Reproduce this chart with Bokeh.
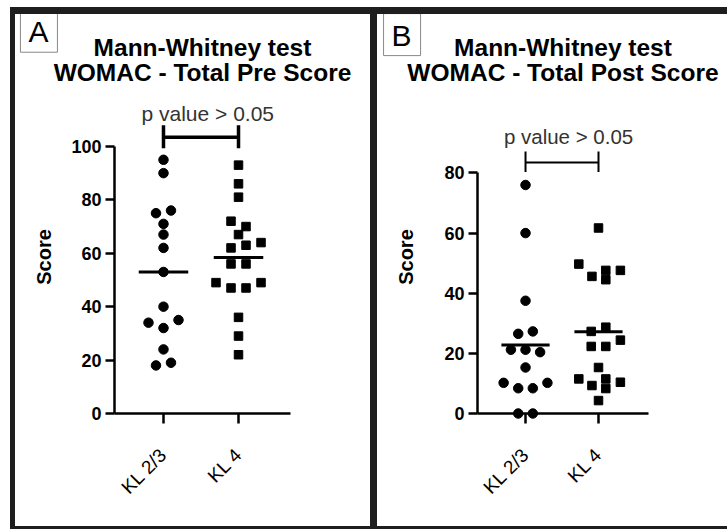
import math
from bokeh.plotting import figure
from bokeh.models import Range1d, FixedTicker, Title
from bokeh.layouts import row
from bokeh.embed import file_html
from bokeh.resources import INLINE
from bokeh.core.properties import value

FONT = "Liberation Sans"

categories = ["KL 2/3", "KL 4"]
cat_pos = [1, 2]

# Panel A: WOMAC - Total Pre Score
pre_kl23 = [95, 90, 75, 76, 71, 67, 62, 53, 40, 34, 35, 32, 24, 18, 19]
pre_kl23_jitter = [0, 0, -0.1, 0.1, 0, 0, 0, 0, 0, -0.2, 0.2, 0, 0, -0.1, 0.1]
pre_kl4 = [93, 86, 81, 72, 70, 67, 62, 63, 64, 56, 56, 49, 47, 47, 49, 36, 29, 22]
pre_kl4_jitter = [0, 0, 0, -0.1, 0.1, 0, -0.1, 0.1, 0.3, -0.1, 0.1, -0.3, -0.1, 0.1, 0.3, 0, 0, 0]
pre_medians = [53, 58.4]
pre_ticks = [0, 20, 40, 60, 80, 100]

# Panel B: WOMAC - Total Post Score
post_kl23 = [76, 60, 37.5, 26.5, 27.3, 21.2, 21.2, 20.4, 15.3, 10.2, 8.4, 8.4, 10.2, 0, 0]
post_kl23_jitter = [0, 0, 0, -0.1, 0.1, -0.2, 0, 0.2, 0, -0.3, -0.1, 0.1, 0.3, -0.1, 0.1]
post_kl4 = [61.7, 49.7, 45.6, 47.6, 44.5, 47.6, 27.3, 28.7, 22.3, 22.3, 24.4, 15.3,
            11.5, 9.3, 11.5, 8.3, 10.4, 4.3]
post_kl4_jitter = [0, -0.27, -0.09, 0.1, 0.1, 0.3, -0.1, 0.1, -0.1, 0.1, 0.3, 0,
                   -0.27, -0.09, 0.1, 0.1, 0.3, 0]
post_medians = [22.8, 27.2]
post_ticks = [0, 20, 40, 60, 80]

p_text = "p value > 0.05"


def make_panel(letter, line1, line2, g1, j1, g2, j2, medians, ticks, width,
               mb_left, mb_right, mb_bottom, x_rng, y_end, bracket, ptext_y,
               bracket_w, score_standoff, letter_xy, ptext_size, margin):
    p = figure(width=width, height=512, x_range=Range1d(*x_rng),
               y_range=Range1d(0, y_end), output_backend="svg",
               toolbar_location=None, title=None,
               min_border_left=mb_left, min_border_right=mb_right,
               min_border_top=86, min_border_bottom=mb_bottom,
               background_fill_color="white", border_fill_color="white",
               outline_line_color=None, margin=margin,
               styles={"background-color": "white"})
    p.xgrid.visible = False
    p.ygrid.visible = False

    t2 = Title(text=line2, align="center", text_font=FONT, text_font_size="24.5px",
               text_font_style="bold", text_color="black", standoff=30)
    t1 = Title(text=line1, align="center", text_font=FONT, text_font_size="24.5px",
               text_font_style="bold", text_color="black", standoff=-38)
    p.add_layout(t2, "above")
    p.add_layout(t1, "above")

    # points
    x1 = [cat_pos[0] + j for j in j1]
    x2 = [cat_pos[1] + j for j in j2]
    p.scatter(x1, g1, marker="circle", size=9.5, color="black", level="overlay")
    p.scatter(x2, g2, marker="square", size=8.5, color="black", level="overlay")

    # medians
    p.segment(x0=[c - 0.33 for c in cat_pos], x1=[c + 0.33 for c in cat_pos],
              y0=medians, y1=medians, line_color="black", line_width=3)

    # bracket
    by, blo, bhi = bracket
    p.segment(x0=[cat_pos[0]], x1=[cat_pos[1]], y0=[by], y1=[by],
              line_color="black", line_width=bracket_w)
    p.segment(x0=cat_pos, x1=cat_pos, y0=[blo, blo], y1=[bhi, bhi],
              line_color="black", line_width=bracket_w)
    p.text(x=[1.59], y=[ptext_y], text=[p_text], text_font=value(FONT),
           text_font_size=ptext_size, text_align="center", text_baseline="middle",
           text_color="#333333")

    # panel letter in a box (outside the frame, unclipped overlay level)
    p.text(x=[letter_xy[0]], y=[letter_xy[1]], text=[letter], text_font=value(FONT),
           text_font_size="30px", text_align="left", text_baseline="top",
           text_color="black", background_fill_color="white",
           border_line_color="#888888", border_line_width=1,
           padding=dict(left=8, right=9, top=5, bottom=4), level="overlay")

    # axes
    xa = p.xaxis[0]
    xa.ticker = FixedTicker(ticks=cat_pos)
    xa.major_label_overrides = {cat_pos[0]: categories[0], cat_pos[1]: categories[1]}
    xa.major_label_orientation = math.pi / 4
    xa.major_label_text_font = FONT
    xa.major_label_text_font_size = "19px"
    xa.major_label_text_color = "black"
    xa.major_tick_out = 10
    xa.major_tick_in = 0
    xa.minor_tick_line_color = None
    xa.axis_line_width = 2.5
    xa.major_tick_line_width = 2.5
    xa.axis_line_color = "black"
    xa.major_tick_line_color = "black"
    xa.major_label_standoff = 28

    ya = p.yaxis[0]
    ya.ticker = FixedTicker(ticks=ticks)
    ya.bounds = (0, ticks[-1])
    ya.major_label_text_font = FONT
    ya.major_label_text_font_size = "18px"
    ya.major_label_text_font_style = "bold"
    ya.major_label_text_color = "black"
    ya.major_tick_out = 9
    ya.major_tick_in = 0
    ya.minor_tick_line_color = None
    ya.axis_line_width = 2.5
    ya.major_tick_line_width = 2.5
    ya.axis_line_color = "black"
    ya.major_tick_line_color = "black"
    ya.major_label_standoff = 4
    ya.axis_label = "Score"
    ya.axis_label_text_font = FONT
    ya.axis_label_text_font_size = "20px"
    ya.axis_label_text_font_style = "bold"
    ya.axis_label_text_color = "black"
    ya.axis_label_standoff = score_standoff
    return p


pa = make_panel("A", "Mann-Whitney test", "WOMAC - Total Pre Score",
                pre_kl23, pre_kl23_jitter, pre_kl4, pre_kl4_jitter, pre_medians,
                pre_ticks, 355, 99, 80, 113, (0.347, 2.693), 117.2,
                (103.4, 99.3, 107.9), 112.5, 3.5, 13, (-0.907, 151.0), "21px",
                (7, 0, 3, 5))
pb = make_panel("B", "Mann-Whitney test", "WOMAC - Total Post Score",
                post_kl23, post_kl23_jitter, post_kl4, post_kl4_jitter, post_medians,
                post_ticks, 350, 100, 79, 102, (0.342, 2.685), 104.1,
                (83.5, 80.3, 87.1), 92.2, 2, 24, (-0.945, 133.0), "20.5px",
                (7, 0, 3, 0))

layout = row(pa, pb, spacing=7, margin=(7, 0, 0, 10),
             styles={"background-color": "#1e1e1e"})

open("out.html", "w").write(file_html(layout, INLINE))
